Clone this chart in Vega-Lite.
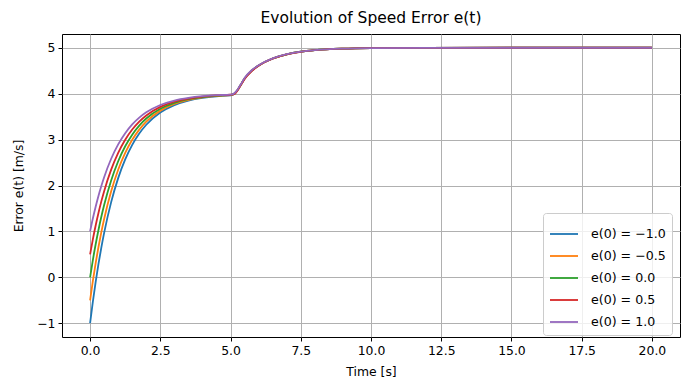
{
  "$schema": "https://vega.github.io/schema/vega-lite/v6.json",
  "width": 618,
  "height": 303,
  "autosize": {"type": "none"},
  "padding": {"left": 62, "top": 34, "right": 10, "bottom": 53},
  "background": "white",
  "title": {"text": "Evolution of Speed Error e(t)", "fontSize": 15.5, "font": "DejaVu Sans", "fontWeight": "normal", "color": "#000000", "offset": 8, "anchor": "middle"},
  "config": {
    "view": {"stroke": "#000000", "strokeWidth": 1},
    "axis": {
      "domain": false,
      "grid": true,
      "gridColor": "#b0b0b0",
      "gridWidth": 1,
      "gridOpacity": 1,
      "tickColor": "#000000",
      "tickSize": 4,
      "tickWidth": 1,
      "labelFont": "DejaVu Sans",
      "labelFontSize": 12.4,
      "labelColor": "#000000",
      "labelPadding": 3,
      "titleFont": "DejaVu Sans",
      "titleFontSize": 12.4,
      "titleFontWeight": "normal",
      "titleColor": "#000000"
    },
    "legend": {
      "labelFont": "DejaVu Sans",
      "labelFontSize": 12.6,
      "labelColor": "#000000"
    }
  },
  "data": {
    "values": [
      {"s": "e(0) = −1.0", "t": 0, "e": -1},
      {"s": "e(0) = −1.0", "t": 0.1, "e": -0.524},
      {"s": "e(0) = −1.0", "t": 0.2, "e": -0.094},
      {"s": "e(0) = −1.0", "t": 0.3, "e": 0.296},
      {"s": "e(0) = −1.0", "t": 0.4, "e": 0.648},
      {"s": "e(0) = −1.0", "t": 0.5, "e": 0.967},
      {"s": "e(0) = −1.0", "t": 0.75, "e": 1.638},
      {"s": "e(0) = −1.0", "t": 1.0, "e": 2.16},
      {"s": "e(0) = −1.0", "t": 1.25, "e": 2.567},
      {"s": "e(0) = −1.0", "t": 1.5, "e": 2.884},
      {"s": "e(0) = −1.0", "t": 1.75, "e": 3.131},
      {"s": "e(0) = −1.0", "t": 2.0, "e": 3.323},
      {"s": "e(0) = −1.0", "t": 2.5, "e": 3.589},
      {"s": "e(0) = −1.0", "t": 3.0, "e": 3.751},
      {"s": "e(0) = −1.0", "t": 3.5, "e": 3.849},
      {"s": "e(0) = −1.0", "t": 4.0, "e": 3.908},
      {"s": "e(0) = −1.0", "t": 4.5, "e": 3.944},
      {"s": "e(0) = −1.0", "t": 5.0, "e": 3.966},
      {"s": "e(0) = −1.0", "t": 5.1, "e": 3.985},
      {"s": "e(0) = −1.0", "t": 5.2, "e": 4.04},
      {"s": "e(0) = −1.0", "t": 5.3, "e": 4.13},
      {"s": "e(0) = −1.0", "t": 5.4, "e": 4.23},
      {"s": "e(0) = −1.0", "t": 5.5, "e": 4.33},
      {"s": "e(0) = −1.0", "t": 5.75, "e": 4.5},
      {"s": "e(0) = −1.0", "t": 6.0, "e": 4.614},
      {"s": "e(0) = −1.0", "t": 6.5, "e": 4.766},
      {"s": "e(0) = −1.0", "t": 7.0, "e": 4.858},
      {"s": "e(0) = −1.0", "t": 7.5, "e": 4.914},
      {"s": "e(0) = −1.0", "t": 8.0, "e": 4.948},
      {"s": "e(0) = −1.0", "t": 9.0, "e": 4.981},
      {"s": "e(0) = −1.0", "t": 10.0, "e": 4.993},
      {"s": "e(0) = −1.0", "t": 12.0, "e": 4.999},
      {"s": "e(0) = −1.0", "t": 15.0, "e": 5.0},
      {"s": "e(0) = −1.0", "t": 20.0, "e": 5.0},

      {"s": "e(0) = −0.5", "t": 0, "e": -0.5},
      {"s": "e(0) = −0.5", "t": 0.1, "e": -0.072},
      {"s": "e(0) = −0.5", "t": 0.2, "e": 0.316},
      {"s": "e(0) = −0.5", "t": 0.3, "e": 0.666},
      {"s": "e(0) = −0.5", "t": 0.4, "e": 0.984},
      {"s": "e(0) = −0.5", "t": 0.5, "e": 1.271},
      {"s": "e(0) = −0.5", "t": 0.75, "e": 1.874},
      {"s": "e(0) = −0.5", "t": 1.0, "e": 2.344},
      {"s": "e(0) = −0.5", "t": 1.25, "e": 2.711},
      {"s": "e(0) = −0.5", "t": 1.5, "e": 2.996},
      {"s": "e(0) = −0.5", "t": 1.75, "e": 3.218},
      {"s": "e(0) = −0.5", "t": 2.0, "e": 3.391},
      {"s": "e(0) = −0.5", "t": 2.5, "e": 3.631},
      {"s": "e(0) = −0.5", "t": 3.0, "e": 3.776},
      {"s": "e(0) = −0.5", "t": 3.5, "e": 3.864},
      {"s": "e(0) = −0.5", "t": 4.0, "e": 3.918},
      {"s": "e(0) = −0.5", "t": 4.5, "e": 3.95},
      {"s": "e(0) = −0.5", "t": 5.0, "e": 3.97},
      {"s": "e(0) = −0.5", "t": 5.1, "e": 3.986},
      {"s": "e(0) = −0.5", "t": 5.2, "e": 4.04},
      {"s": "e(0) = −0.5", "t": 5.3, "e": 4.13},
      {"s": "e(0) = −0.5", "t": 5.4, "e": 4.23},
      {"s": "e(0) = −0.5", "t": 5.5, "e": 4.33},
      {"s": "e(0) = −0.5", "t": 5.75, "e": 4.5},
      {"s": "e(0) = −0.5", "t": 6.0, "e": 4.614},
      {"s": "e(0) = −0.5", "t": 6.5, "e": 4.766},
      {"s": "e(0) = −0.5", "t": 7.0, "e": 4.858},
      {"s": "e(0) = −0.5", "t": 7.5, "e": 4.914},
      {"s": "e(0) = −0.5", "t": 8.0, "e": 4.948},
      {"s": "e(0) = −0.5", "t": 9.0, "e": 4.981},
      {"s": "e(0) = −0.5", "t": 10.0, "e": 4.993},
      {"s": "e(0) = −0.5", "t": 12.0, "e": 4.999},
      {"s": "e(0) = −0.5", "t": 15.0, "e": 5.0},
      {"s": "e(0) = −0.5", "t": 20.0, "e": 5.0},

      {"s": "e(0) = 0.0", "t": 0, "e": 0},
      {"s": "e(0) = 0.0", "t": 0.1, "e": 0.381},
      {"s": "e(0) = 0.0", "t": 0.2, "e": 0.725},
      {"s": "e(0) = 0.0", "t": 0.3, "e": 1.037},
      {"s": "e(0) = 0.0", "t": 0.4, "e": 1.319},
      {"s": "e(0) = 0.0", "t": 0.5, "e": 1.574},
      {"s": "e(0) = 0.0", "t": 0.75, "e": 2.11},
      {"s": "e(0) = 0.0", "t": 1.0, "e": 2.528},
      {"s": "e(0) = 0.0", "t": 1.25, "e": 2.854},
      {"s": "e(0) = 0.0", "t": 1.5, "e": 3.108},
      {"s": "e(0) = 0.0", "t": 1.75, "e": 3.305},
      {"s": "e(0) = 0.0", "t": 2.0, "e": 3.459},
      {"s": "e(0) = 0.0", "t": 2.5, "e": 3.672},
      {"s": "e(0) = 0.0", "t": 3.0, "e": 3.801},
      {"s": "e(0) = 0.0", "t": 3.5, "e": 3.879},
      {"s": "e(0) = 0.0", "t": 4.0, "e": 3.927},
      {"s": "e(0) = 0.0", "t": 4.5, "e": 3.956},
      {"s": "e(0) = 0.0", "t": 5.0, "e": 3.973},
      {"s": "e(0) = 0.0", "t": 5.1, "e": 3.987},
      {"s": "e(0) = 0.0", "t": 5.2, "e": 4.04},
      {"s": "e(0) = 0.0", "t": 5.3, "e": 4.13},
      {"s": "e(0) = 0.0", "t": 5.4, "e": 4.23},
      {"s": "e(0) = 0.0", "t": 5.5, "e": 4.33},
      {"s": "e(0) = 0.0", "t": 5.75, "e": 4.5},
      {"s": "e(0) = 0.0", "t": 6.0, "e": 4.614},
      {"s": "e(0) = 0.0", "t": 6.5, "e": 4.766},
      {"s": "e(0) = 0.0", "t": 7.0, "e": 4.858},
      {"s": "e(0) = 0.0", "t": 7.5, "e": 4.914},
      {"s": "e(0) = 0.0", "t": 8.0, "e": 4.948},
      {"s": "e(0) = 0.0", "t": 9.0, "e": 4.981},
      {"s": "e(0) = 0.0", "t": 10.0, "e": 4.993},
      {"s": "e(0) = 0.0", "t": 12.0, "e": 4.999},
      {"s": "e(0) = 0.0", "t": 15.0, "e": 5.0},
      {"s": "e(0) = 0.0", "t": 20.0, "e": 5.0},

      {"s": "e(0) = 0.5", "t": 0, "e": 0.5},
      {"s": "e(0) = 0.5", "t": 0.1, "e": 0.833},
      {"s": "e(0) = 0.5", "t": 0.2, "e": 1.135},
      {"s": "e(0) = 0.5", "t": 0.3, "e": 1.407},
      {"s": "e(0) = 0.5", "t": 0.4, "e": 1.654},
      {"s": "e(0) = 0.5", "t": 0.5, "e": 1.877},
      {"s": "e(0) = 0.5", "t": 0.75, "e": 2.347},
      {"s": "e(0) = 0.5", "t": 1.0, "e": 2.712},
      {"s": "e(0) = 0.5", "t": 1.25, "e": 2.997},
      {"s": "e(0) = 0.5", "t": 1.5, "e": 3.219},
      {"s": "e(0) = 0.5", "t": 1.75, "e": 3.392},
      {"s": "e(0) = 0.5", "t": 2.0, "e": 3.526},
      {"s": "e(0) = 0.5", "t": 2.5, "e": 3.713},
      {"s": "e(0) = 0.5", "t": 3.0, "e": 3.826},
      {"s": "e(0) = 0.5", "t": 3.5, "e": 3.894},
      {"s": "e(0) = 0.5", "t": 4.0, "e": 3.936},
      {"s": "e(0) = 0.5", "t": 4.5, "e": 3.961},
      {"s": "e(0) = 0.5", "t": 5.0, "e": 3.977},
      {"s": "e(0) = 0.5", "t": 5.1, "e": 3.984},
      {"s": "e(0) = 0.5", "t": 5.2, "e": 4.03},
      {"s": "e(0) = 0.5", "t": 5.3, "e": 4.12},
      {"s": "e(0) = 0.5", "t": 5.4, "e": 4.22},
      {"s": "e(0) = 0.5", "t": 5.5, "e": 4.32},
      {"s": "e(0) = 0.5", "t": 5.75, "e": 4.49},
      {"s": "e(0) = 0.5", "t": 6.0, "e": 4.608},
      {"s": "e(0) = 0.5", "t": 6.5, "e": 4.762},
      {"s": "e(0) = 0.5", "t": 7.0, "e": 4.856},
      {"s": "e(0) = 0.5", "t": 7.5, "e": 4.913},
      {"s": "e(0) = 0.5", "t": 8.0, "e": 4.947},
      {"s": "e(0) = 0.5", "t": 9.0, "e": 4.981},
      {"s": "e(0) = 0.5", "t": 10.0, "e": 4.993},
      {"s": "e(0) = 0.5", "t": 12.0, "e": 4.999},
      {"s": "e(0) = 0.5", "t": 15.0, "e": 5.0},
      {"s": "e(0) = 0.5", "t": 20.0, "e": 5.0},

      {"s": "e(0) = 1.0", "t": 0, "e": 1},
      {"s": "e(0) = 1.0", "t": 0.1, "e": 1.286},
      {"s": "e(0) = 1.0", "t": 0.2, "e": 1.544},
      {"s": "e(0) = 1.0", "t": 0.3, "e": 1.778},
      {"s": "e(0) = 1.0", "t": 0.4, "e": 1.989},
      {"s": "e(0) = 1.0", "t": 0.5, "e": 2.18},
      {"s": "e(0) = 1.0", "t": 0.75, "e": 2.583},
      {"s": "e(0) = 1.0", "t": 1.0, "e": 2.896},
      {"s": "e(0) = 1.0", "t": 1.25, "e": 3.14},
      {"s": "e(0) = 1.0", "t": 1.5, "e": 3.331},
      {"s": "e(0) = 1.0", "t": 1.75, "e": 3.479},
      {"s": "e(0) = 1.0", "t": 2.0, "e": 3.594},
      {"s": "e(0) = 1.0", "t": 2.5, "e": 3.754},
      {"s": "e(0) = 1.0", "t": 3.0, "e": 3.851},
      {"s": "e(0) = 1.0", "t": 3.5, "e": 3.909},
      {"s": "e(0) = 1.0", "t": 4.0, "e": 3.945},
      {"s": "e(0) = 1.0", "t": 4.5, "e": 3.967},
      {"s": "e(0) = 1.0", "t": 5.0, "e": 3.98},
      {"s": "e(0) = 1.0", "t": 5.1, "e": 3.995},
      {"s": "e(0) = 1.0", "t": 5.2, "e": 4.05},
      {"s": "e(0) = 1.0", "t": 5.3, "e": 4.14},
      {"s": "e(0) = 1.0", "t": 5.4, "e": 4.24},
      {"s": "e(0) = 1.0", "t": 5.5, "e": 4.34},
      {"s": "e(0) = 1.0", "t": 5.75, "e": 4.51},
      {"s": "e(0) = 1.0", "t": 6.0, "e": 4.618},
      {"s": "e(0) = 1.0", "t": 6.5, "e": 4.768},
      {"s": "e(0) = 1.0", "t": 7.0, "e": 4.859},
      {"s": "e(0) = 1.0", "t": 7.5, "e": 4.915},
      {"s": "e(0) = 1.0", "t": 8.0, "e": 4.948},
      {"s": "e(0) = 1.0", "t": 9.0, "e": 4.981},
      {"s": "e(0) = 1.0", "t": 10.0, "e": 4.993},
      {"s": "e(0) = 1.0", "t": 12.0, "e": 4.999},
      {"s": "e(0) = 1.0", "t": 15.0, "e": 5.0},
      {"s": "e(0) = 1.0", "t": 20.0, "e": 5.0}
    ]
  },
  "mark": {"type": "line", "strokeWidth": 1.8, "interpolate": "monotone", "clip": true},
  "encoding": {
    "x": {
      "field": "t", "type": "quantitative",
      "scale": {"domain": [-1, 21], "nice": false, "zero": false},
      "axis": {"title": "Time [s]", "values": [0, 2.5, 5, 7.5, 10, 12.5, 15, 17.5, 20], "format": ".1f", "titlePadding": 9, "labelFlush": false}
    },
    "y": {
      "field": "e", "type": "quantitative",
      "scale": {"domain": [-1.3, 5.3], "nice": false, "zero": false},
      "axis": {"title": "Error e(t) [m/s]", "values": [-1, 0, 1, 2, 3, 4, 5], "format": "d", "titlePadding": 11}
    },
    "color": {
      "field": "s", "type": "nominal",
      "scale": {
        "domain": ["e(0) = −1.0", "e(0) = −0.5", "e(0) = 0.0", "e(0) = 0.5", "e(0) = 1.0"],
        "range": ["#1f77b4", "#ff7f0e", "#2ca02c", "#d62728", "#9467bd"]
      },
      "legend": {
        "title": null,
        "orient": "none",
        "legendX": 481,
        "legendY": 179,
        "symbolType": "stroke",
        "symbolSize": 784,
        "symbolStrokeWidth": 1.8,
        "rowPadding": -5,
        "labelOffset": 12,
        "padding": 6,
        "fillColor": "rgba(255,255,255,0.8)",
        "strokeColor": "#cccccc",
        "cornerRadius": 3
      }
    }
  }
}
